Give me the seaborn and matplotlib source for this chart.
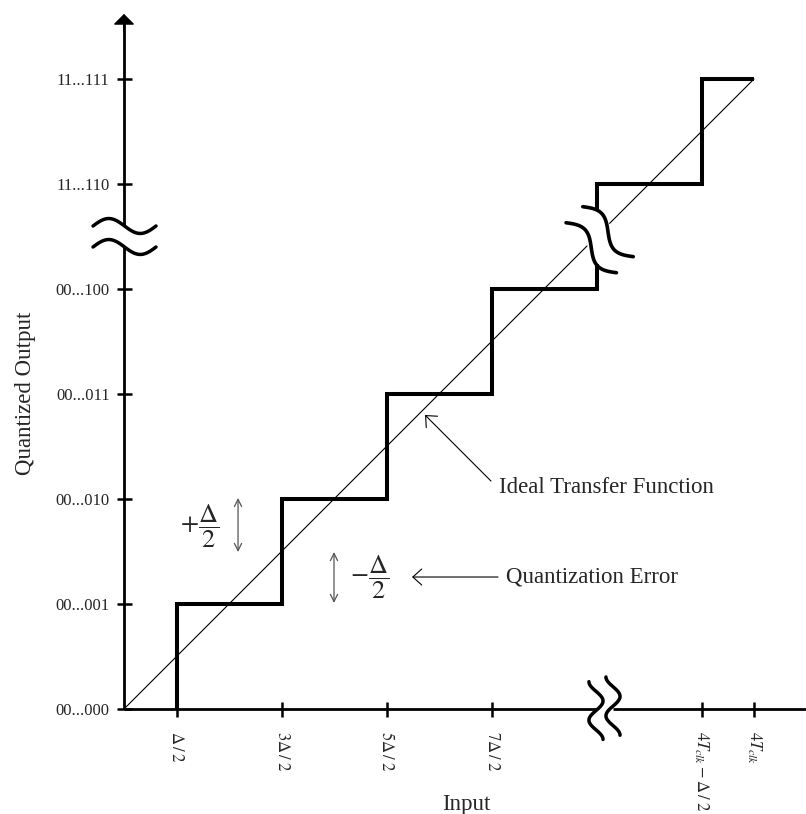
import numpy as np
import matplotlib
matplotlib.use("Agg")
import matplotlib.pyplot as plt
import seaborn as sns

# Output codes on the vertical axis
code_levels = [0, 1, 2, 3, 4, 5, 6]
code_labels = ["00...000", "00...001", "00...010", "00...011",
               "00...100", "11...110", "11...111"]

# Input decision points (in units of the step size Δ)
input_ticks = [0.5, 1.5, 2.5, 3.5, 5.5, 6.0]
input_labels = [r"$\Delta\:/\:2$", r"$3\Delta\:/\:2$", r"$5\Delta\:/\:2$",
                r"$7\Delta\:/\:2$", r"$4T_{clk}-\Delta\:/\:2$", r"$4T_{clk}$"]

# Quantizer staircase, split where the axes are broken
stair_lower_x = [0.5, 1.5, 2.5, 3.5, 4.5, 4.5]
stair_lower_y = [0, 1, 2, 3, 4, 4.24]
stair_upper_x = [4.5, 5.5, 6.0]
stair_upper_y = [4.76, 5, 6]

# Ideal transfer function y = x, split at the break
ideal_lower = [0.0, 4.41]
ideal_upper = [4.625, 6.0]

# Break positions on the axes
y_break = (4.40, 4.60)
x_break = (4.495, 4.657)

sns.set_style("white")
plt.rcParams["font.family"] = ["Liberation Serif", "DejaVu Serif"]
plt.rcParams["mathtext.fontset"] = "stix"

fig = plt.figure(figsize=(8.06, 8.14), dpi=100)
ax = fig.add_axes([0, 0, 1, 1])
ax.set_xlim(-124 / 105, 682 / 105)
ax.set_ylim(-105 / 105, 709 / 105)

for side in ["top", "right"]:
    ax.spines[side].set_visible(False)
ax.spines["left"].set_position(("data", 0))
ax.spines["bottom"].set_position(("data", 0))
ax.spines["left"].set_visible(False)
ax.spines["bottom"].set_visible(False)

AX_LW = 2.0
# axis lines with gaps at the breaks
ax.plot([0, 0], [0, y_break[0]], color="black", lw=AX_LW, solid_capstyle="butt")
ax.plot([0, 0], [y_break[1], 6.55], color="black", lw=AX_LW, solid_capstyle="butt")
ax.plot([0, x_break[0]], [0, 0], color="black", lw=AX_LW, solid_capstyle="butt")
ax.plot([x_break[1], 6.55], [0, 0], color="black", lw=AX_LW, solid_capstyle="butt")

# arrow heads
head = dict(arrowstyle="-|>,head_length=0.33,head_width=0.33", mutation_scale=20,
            lw=1.0, color="black", shrinkA=0, shrinkB=0)
ax.annotate("", xy=(0, 6.62), xytext=(0, 6.45), arrowprops=head)
ax.annotate("", xy=(6.55, 0), xytext=(6.38, 0), arrowprops=head)

# break marks
s = np.linspace(0, 1, 80)
for yc in y_break:
    ax.plot(-0.295 + 0.60 * s, yc + 0.071 * np.sin(2 * np.pi * s),
            color="black", lw=2.5, solid_capstyle="round")
for xc, ytop, ybot in [(x_break[0], 0.26, -0.29), (x_break[1], 0.305, -0.25)]:
    ax.plot(xc - 0.067 * np.cos(3 * np.pi * s), ytop + (ybot - ytop) * s,
            color="black", lw=2.5, solid_capstyle="round")

def s_curve(p0, p1, amp):
    p0 = np.asarray(p0)
    p1 = np.asarray(p1)
    n = np.array([1.0, 1.0]) / np.sqrt(2)
    pts = p0[None, :] + s[:, None] * (p1 - p0)[None, :] + amp * np.sin(2 * np.pi * s)[:, None] * n[None, :]
    return pts[:, 0], pts[:, 1]

for p0, p1 in [((4.210, 4.631), (4.690, 4.155)), ((4.369, 4.784), (4.850, 4.308))]:
    cx, cy = s_curve(p0, p1, 0.081)
    ax.plot(cx, cy, color="black", lw=2.6, solid_capstyle="round")

# ideal transfer function
sns.lineplot(x=ideal_lower, y=ideal_lower, color="black", lw=0.8, ax=ax,
             estimator=None, sort=False)
sns.lineplot(x=ideal_upper, y=ideal_upper, color="black", lw=0.8, ax=ax,
             estimator=None, sort=False)

# quantizer staircase
for xs, ys in [(stair_lower_x, stair_lower_y), (stair_upper_x, stair_upper_y)]:
    sns.lineplot(x=xs, y=ys, color="black", lw=2.9, ax=ax, estimator=None,
                 sort=False, drawstyle="steps-pre", solid_joinstyle="miter",
                 solid_capstyle="butt")

# ticks and labels
ax.set_yticks(code_levels, code_labels)
ax.set_xticks(input_ticks, input_labels, rotation=-90)
ax.tick_params(axis="both", which="major", bottom=True, left=True,
               direction="inout", length=10.8, width=1.8,
               labelsize=12, color="black")
ax.tick_params(axis="y", pad=5.0)
ax.tick_params(axis="x", pad=10.4)

ax.set_xlabel("Input", fontsize=16.5)
ax.xaxis.label.set_va("baseline")
ax.xaxis.set_label_coords(466 / 806, 4 / 814)
ax.set_ylabel("Quantized Output", fontsize=16.5)
ax.yaxis.set_label_coords(36 / 806, (814 - 393.5) / 814)

# quantization error markers
err = dict(arrowstyle="<->", color="#555555", lw=0.9, mutation_scale=13,
           shrinkA=0, shrinkB=0)
ax.annotate("", xy=(1.086, 2.01), xytext=(1.086, 1.495), arrowprops=err)
ax.annotate("", xy=(2.0, 1.495), xytext=(2.0, 1.01), arrowprops=err)
ax.text(0.724, 1.735, r"$+\dfrac{\Delta}{2}$", fontsize=19, ha="center", va="center")
ax.text(2.343, 1.25, r"$-\dfrac{\Delta}{2}$", fontsize=19, ha="center", va="center")

# callouts
call = dict(arrowstyle="->,head_length=0.4,head_width=0.36", color="black",
            lw=0.8, mutation_scale=16, shrinkA=0, shrinkB=0)
ax.annotate("", xy=(2.867, 2.80), xytext=(3.495, 2.171), arrowprops=call)
ax.text(3.571, 2.105, "Ideal Transfer Function", fontsize=16.5, ha="left", va="center")
ax.annotate("", xy=(2.743, 1.257), xytext=(3.562, 1.257), arrowprops=call)
ax.text(3.64, 1.257, "Quantization Error", fontsize=16.5, ha="left", va="center")

fig.savefig("out.png", dpi=100)
